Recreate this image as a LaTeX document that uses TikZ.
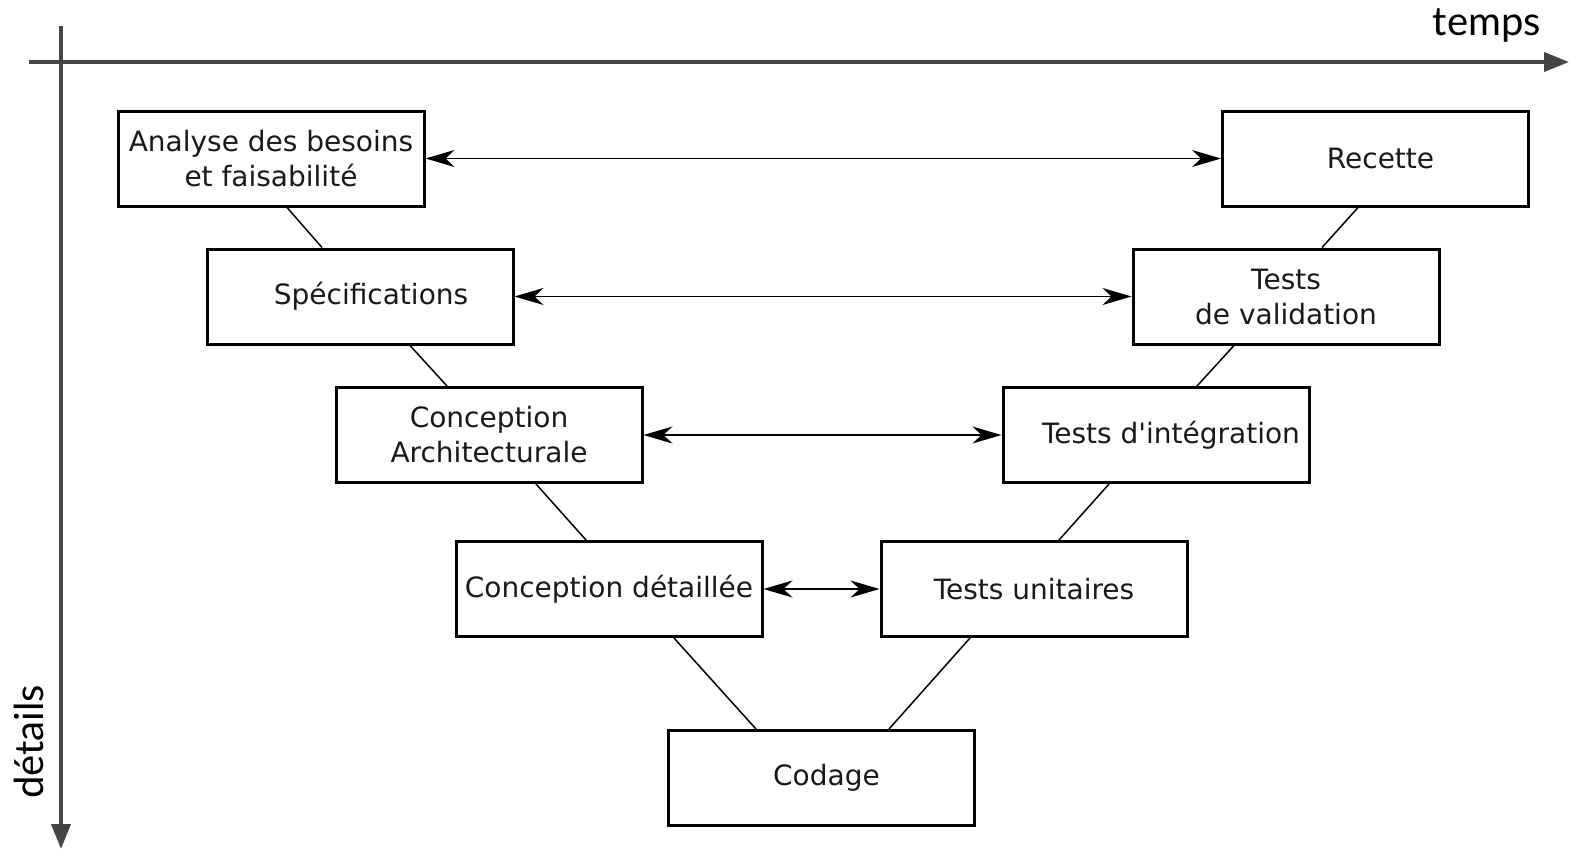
\documentclass[tikz,border=0pt]{standalone}
\usepackage{fontspec}
\setmainfont{DejaVu Sans}[Ligatures=TeXOff]
\newfontfamily\axisfont{Lato}
\usetikzlibrary{arrows.meta}
\begin{document}
\begin{tikzpicture}[x=1pt,y=-1pt,
  phase/.style={draw=black, line width=3pt, minimum width=306pt, minimum height=95pt,
    inner sep=0pt, align=center, font=\fontsize{28}{35}\selectfont, text=black!90},
  link/.style={line width=1.5pt, black},
  pair/.style={line width=1.5pt, black, {Stealth[length=29pt,width=17pt,inset=9pt]}-{Stealth[length=29pt,width=17pt,inset=9pt]}},
  axis/.style={line width=4pt, black!73, -{Triangle[length=25pt,width=19pt]}},
  axislabel/.style={inner sep=0pt, font=\axisfont\fontsize{40}{42}\selectfont, text=black}]
\useasboundingbox (0,0) rectangle (1589,857);

% axes
\coordinate (tx0) at (29,62);
\coordinate (tx1) at (1569,62);
\coordinate (ty0) at (61,26);
\coordinate (ty1) at (61,849);
\draw[axis] (tx0) -- (tx1);
\draw[axis] (ty0) -- (ty1);
\node[axislabel, anchor=base east] (temps) at (1541,35) {temps};
\node[axislabel, anchor=base west, rotate=90] (details) at (43,799) {détails};

% phases of the V
\node[phase] (ana) at (271,158.5) {Analyse des besoins\\et faisabilité};
\node[phase] (spec) at (360,296.5) {\hspace*{22pt}Spécifications};
\node[phase] (arch) at (489,435) {Conception\\Architecturale};
\node[phase] (det) at (609,589) {Conception détaillée};
\node[phase] (code) at (821.5,778) {\hspace*{10pt}Codage};
\node[phase] (unit) at (1034,589) {Tests unitaires};
\node[phase] (integ) at (1156,435) {\hspace*{30pt}Tests d'intégration};
\node[phase] (valid) at (1286,296.5) {Tests\\de validation};
\node[phase] (rec) at (1375.5,158.5) {\hspace*{10pt}Recette};

% descending and ascending branches
\draw[link] ([xshift=16pt]ana.south) -- ([xshift=-38pt]spec.north);
\draw[link] ([xshift=50pt]spec.south) -- ([xshift=-42pt]arch.north);
\draw[link] ([xshift=47pt]arch.south) -- ([xshift=-23pt]det.north);
\draw[link] ([xshift=65pt]det.south) -- ([xshift=-65.5pt]code.north);
\draw[link] ([xshift=67.5pt]code.north) -- ([xshift=-64pt]unit.south);
\draw[link] ([xshift=25pt]unit.north) -- ([xshift=-47pt]integ.south);
\draw[link] ([xshift=41pt]integ.north) -- ([xshift=-52pt]valid.south);
\draw[link] ([xshift=36pt]valid.north) -- ([xshift=-17.5pt]rec.south);

% verification links
\draw[pair] (ana.east) -- (rec.west);
\draw[pair] (spec.east) -- (valid.west);
\draw[pair] (arch.east) -- (integ.west);
\draw[pair] (det.east) -- (unit.west);
\end{tikzpicture}
\end{document}
